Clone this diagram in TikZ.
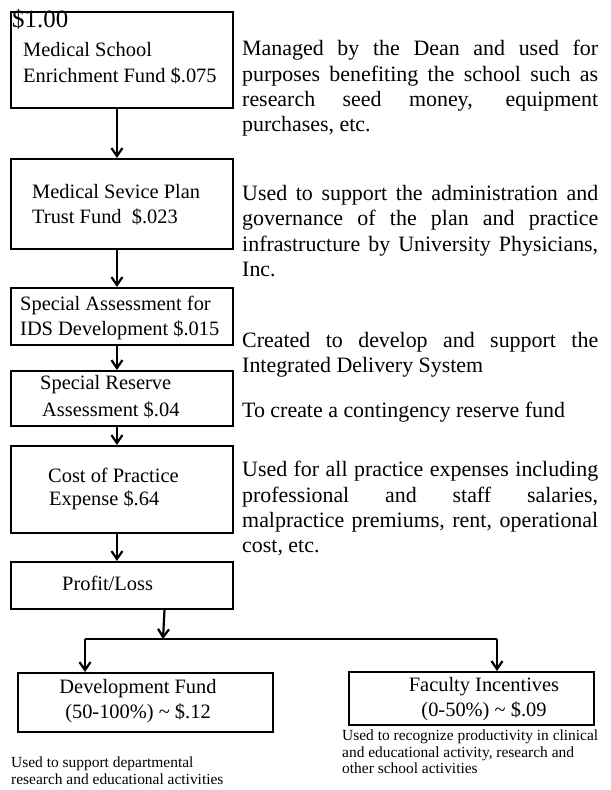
\documentclass[tikz,border=0pt]{standalone}
\usepackage{fontspec}
\setmainfont{Liberation Serif}
\usetikzlibrary{arrows.meta,calc}
\begin{document}
\begin{tikzpicture}[x=1bp,y=-1bp,
  box/.style={draw, line width=2.2bp, inner sep=0pt, anchor=north west},
  lbl/.style={inner sep=0pt, anchor=west, font=\fontsize{20.5}{24}\selectfont},
  ctr/.style={inner sep=0pt, align=center, font=\fontsize{20.5}{25}\selectfont},
  side/.style={inner sep=0pt, anchor=north west, text width=356bp, align=justify, font=\fontsize{22}{25.5}\selectfont},
  note/.style={inner sep=0pt, anchor=north west, align=left, font=\fontsize{15.5}{16.4}\selectfont},
  wire/.style={line width=2.2bp},
  link/.style={line width=2.2bp, -{Straight Barb[length=8bp,width=11bp,line width=2.2bp]}}
]
\useasboundingbox (0,0) rectangle (611,790);

% boxes
\node[box, minimum width=222bp, minimum height=96bp] (b1) at (10,11) {};
\node[box, minimum width=222bp, minimum height=90bp] (b2) at (10,158) {};
\node[box, minimum width=222bp, minimum height=57bp] (b3) at (10,287) {};
\node[box, minimum width=222bp, minimum height=55bp] (b4) at (10,370) {};
\node[box, minimum width=222bp, minimum height=87bp] (b5) at (10,445) {};
\node[box, minimum width=222bp, minimum height=47bp] (b6) at (10,561) {};
\node[box, minimum width=255bp, minimum height=59bp] (dev) at (17,672) {};
\node[box, minimum width=245bp, minimum height=53bp] (fac) at (348,671) {};

% box texts
\node[lbl, font=\fontsize{25}{26}\selectfont] (t0) at (12,19) {\$1.00};
\node[lbl] (t1) at (23,50) {Medical School};
\node[lbl] (t2) at (23,76) {Enrichment Fund \$.075};
\node[lbl] (t3) at (32,192) {Medical Sevice Plan};
\node[lbl] (t4) at (32,217) {Trust Fund\ \ \$.023};
\node[lbl] (t5) at (20,305) {Special Assessment for};
\node[lbl] (t6) at (20,330) {IDS Development \$.015};
\node[lbl] (t7) at (40,385) {Special Reserve};
\node[lbl] (t8) at (42,410) {Assessment \$.04};
\node[lbl] (t9) at (48,475) {Cost of Practice};
\node[lbl] (t10) at (49,500) {Expense \$.64};
\node[lbl] (t11) at (62,583) {Profit/Loss};
\node[ctr] (tdev) at (138,701) {Development Fund\\(50-100\%) \textasciitilde{} \$.12};
\node[ctr] (tfac) at (484,699) {Faculty Incentives\\(0-50\%) \textasciitilde{} \$.09};

% side descriptions
\node[side] (p1) at (242,40) {Managed by the Dean and used for\break purposes benefiting the school such as\break research seed money, equipment\break purchases, etc.};
\node[side] (p2) at (242,185) {Used to support the administration and\break governance of the plan and practice\break infrastructure by University Physicians,\break Inc.};
\node[side] (p3) at (242,332) {Created to develop and support the\break Integrated Delivery System};
\node[side] (p4) at (242,402) {To create a contingency reserve fund};
\node[side] (p5) at (242,461) {Used for all practice expenses including\break professional and staff salaries,\break malpractice premiums, rent, operational\break cost, etc.};

\node[note] (n1) at (11,757) {Used to support departmental\\research and educational activities};
\node[note] (n2) at (342,730) {Used to recognize productivity in clinical\\and educational activity, research and\\other school activities};

% connectors
\draw[link] ($(b1.south west)!0.477!(b1.south east)$) -- ($(b2.north west)!0.477!(b2.north east)$);
\draw[link] ($(b2.south west)!0.477!(b2.south east)$) -- ($(b3.north west)!0.477!(b3.north east)$);
\draw[link] ($(b3.south west)!0.477!(b3.south east)$) -- ($(b4.north west)!0.477!(b4.north east)$);
\draw[link] ($(b4.south west)!0.477!(b4.south east)$) -- ($(b5.north west)!0.477!(b5.north east)$);
\draw[link] ($(b5.south west)!0.477!(b5.south east)$) -- ($(b6.north west)!0.477!(b6.north east)$);

\coordinate (jm) at (163,639);
\coordinate (jl) at (85,639);
\coordinate (jr) at (497,639);
\draw[link] ($(b6.south west)!0.689!(b6.south east)$) -- (jm);
\draw[wire] (jl) -- (jr);
\draw[link] (jl) -- (jl |- dev.north);
\draw[link] (jr) -- (jr |- fac.north);
\end{tikzpicture}
\end{document}
